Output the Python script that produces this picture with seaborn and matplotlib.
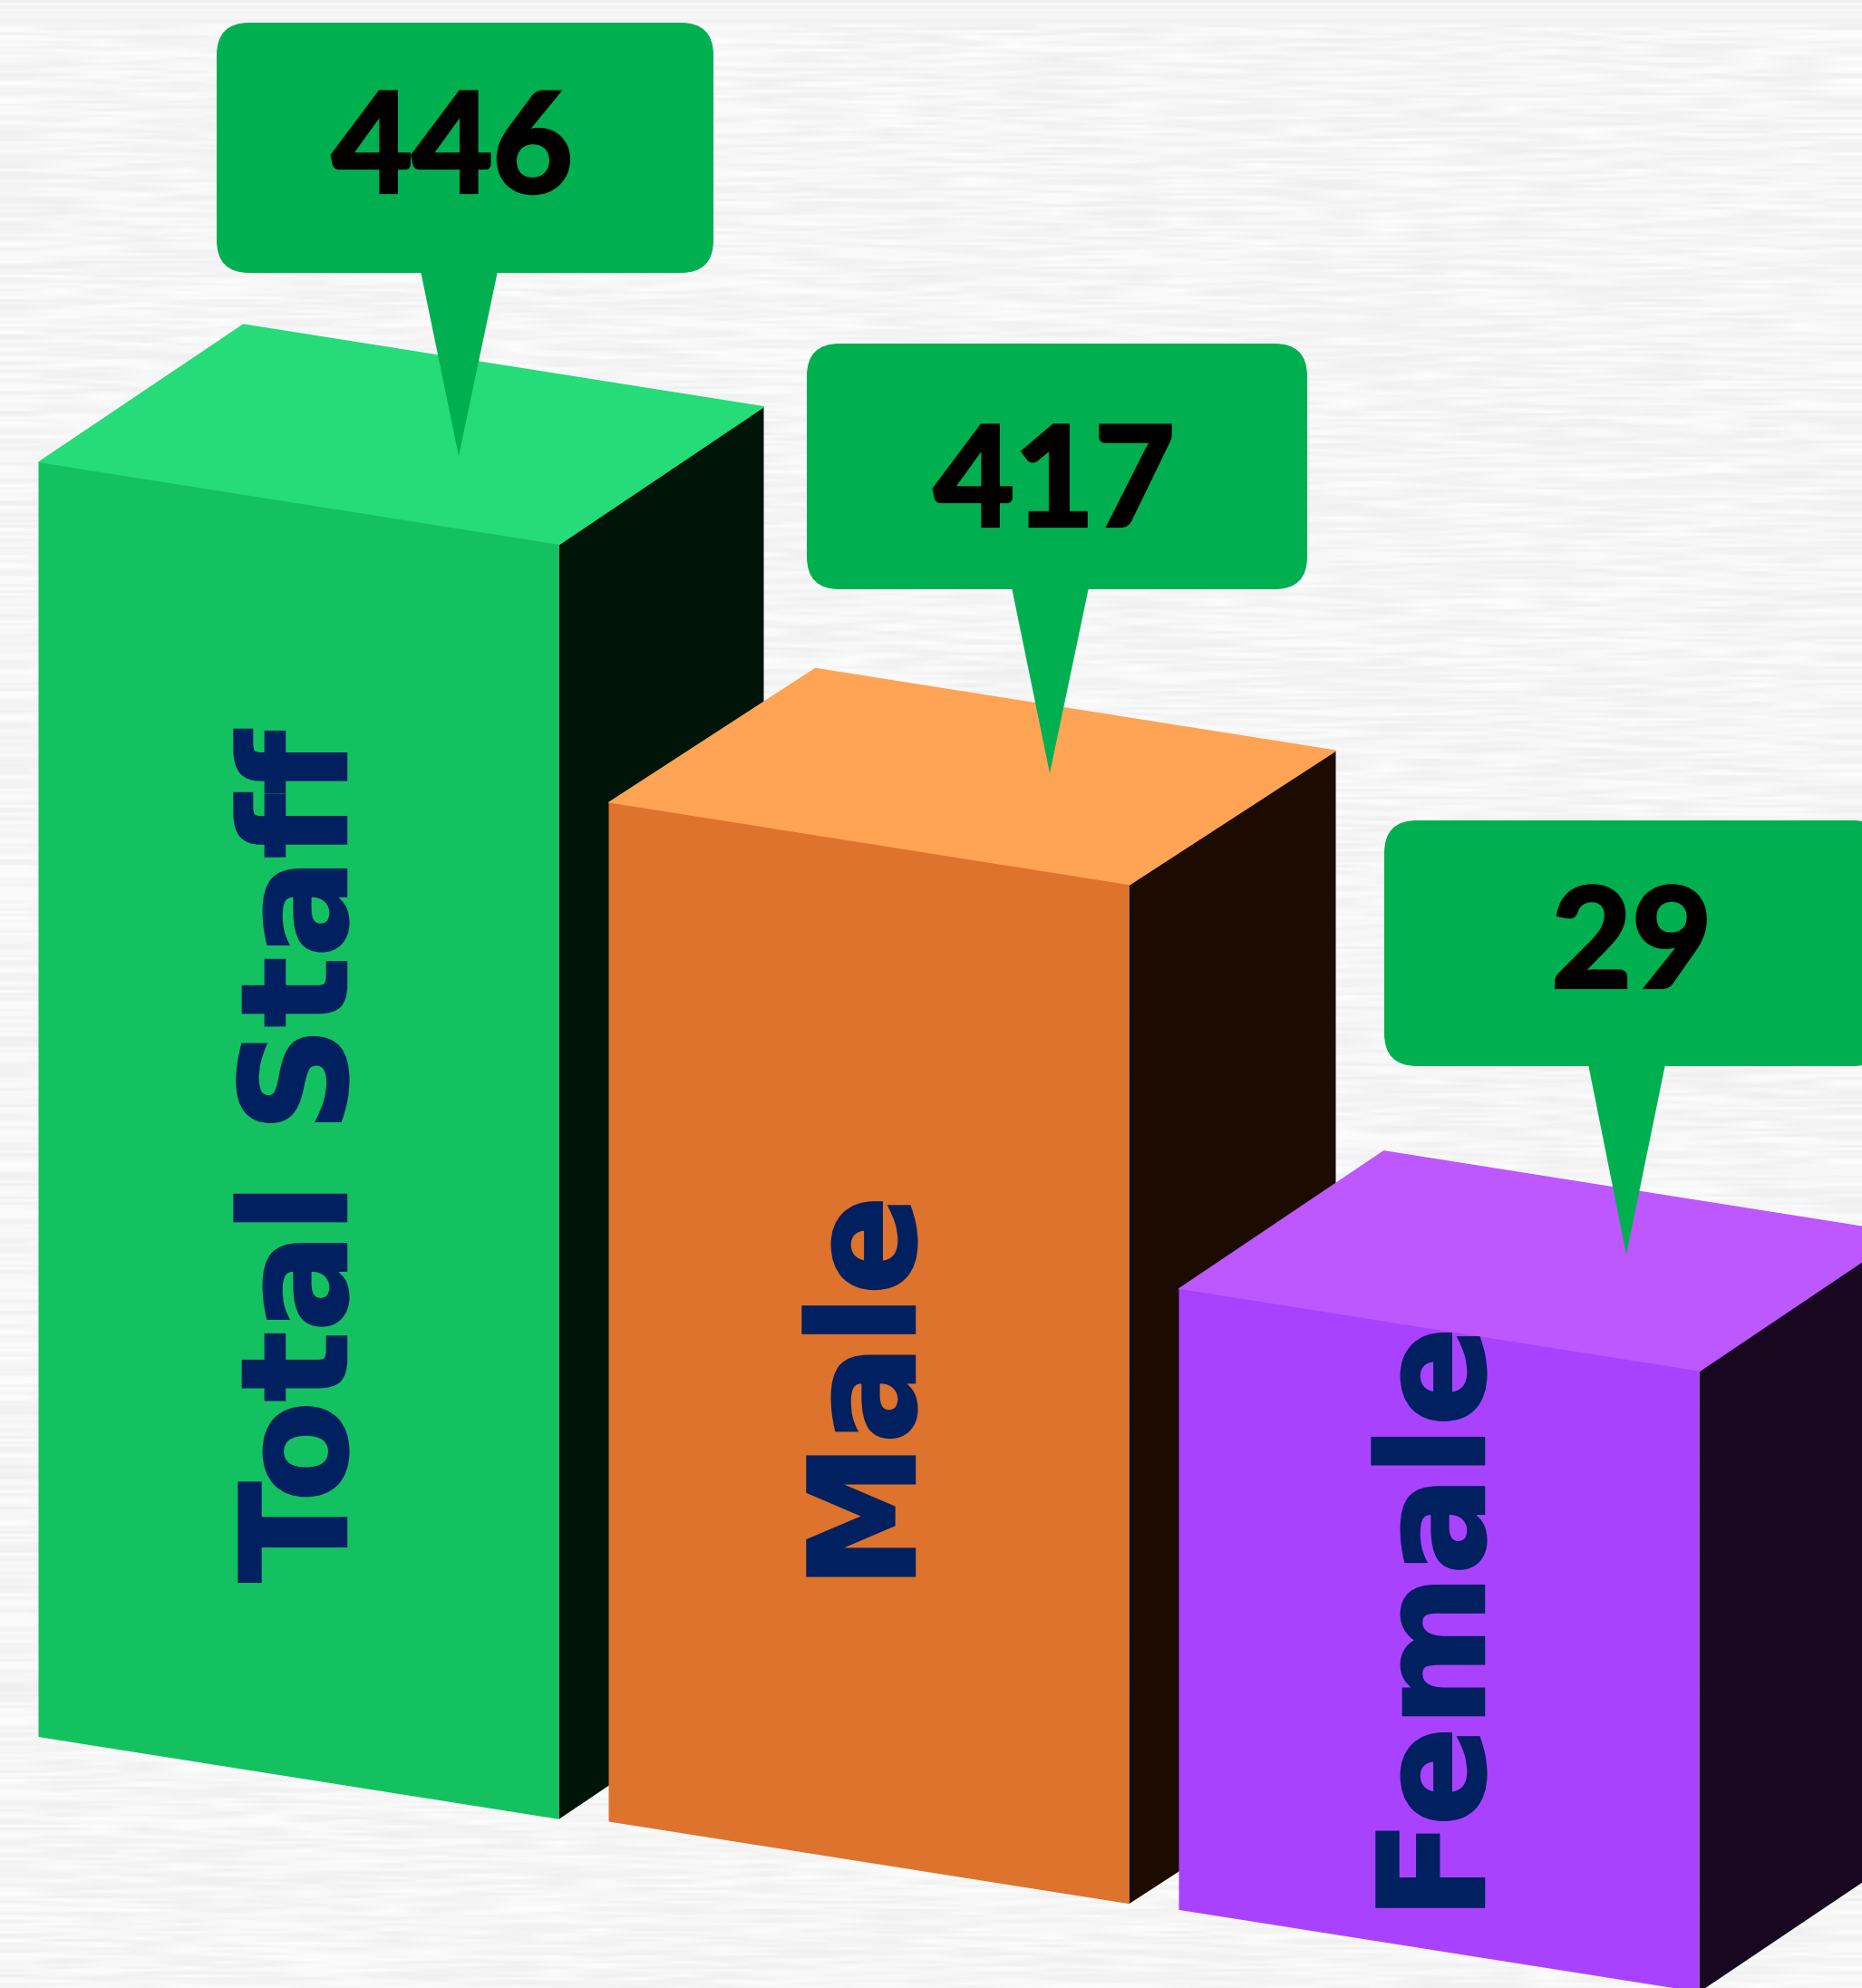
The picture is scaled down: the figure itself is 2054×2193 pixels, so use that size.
import numpy as np
import matplotlib
matplotlib.use("Agg")
import matplotlib.pyplot as plt
import matplotlib.patheffects as pe
import seaborn as sns
from matplotlib.patches import FancyBboxPatch, Polygon
from matplotlib.transforms import Affine2D

# what the chart says
categories = ["Total Staff", "Male", "Female"]
staff_counts = [446, 417, 29]

# the drawn bars are not to scale with the counts, so heights are read off the picture
face_heights = [1406, 1124, 685]
base_lift = [0, 6, 8]

front_colours = ["#14C161", "#DD732C", "#A942FF"]
top_colours = ["#25DC78", "#FFA354", "#BD57FF"]
side_colours = ["#001408", "#1C0B00", "#170820"]

WIDTH, HEIGHT = 2054, 2193
BAR_STEP = 629
BAR_WIDTH = 574
FIRST_CENTRE = 329.5
BASE_Y = 1916
SLOPE = 0.158
depth_x = [226, 228, 226]
depth_y = [152, 148, 152]


def data_x(px):
    return (px - FIRST_CENTRE) / BAR_STEP


def data_y(py):
    return BASE_Y - py


# all in reference pixels: box is left, right, top, bottom
callouts = [
    {"tip": (506, 503), "box": (239, 787, 25, 301), "text": (499, 168)},
    {"tip": (1158, 853), "box": (890, 1442, 379, 650), "text": (1163, 536)},
    {"tip": (1794, 1384), "box": (1527, 2080, 905, 1176), "text": (1800, 1045)},
]
label_pos = [(337, 1276), (964, 1536), (1592, 1791)]

sns.set_theme(style="white")

fig = plt.figure(figsize=(WIDTH / 100, HEIGHT / 100), dpi=100)
ax = fig.add_axes([0, 0, 1, 1])

sns.barplot(
    x=categories,
    y=face_heights,
    hue=categories,
    palette=front_colours,
    saturation=1,
    width=BAR_WIDTH / BAR_STEP,
    legend=False,
    linewidth=0,
    ax=ax,
)
bars = list(ax.patches)

ax.set_xlim(data_x(0), data_x(WIDTH))
ax.set_ylim(data_y(HEIGHT), data_y(0))
ax.axis("off")

# brushed paper background: short horizontal streaks from a sine hash
rows = np.arange(HEIGHT // 3)[:, None]
cols = np.arange(WIDTH // 46 + 1)[None, :]
grain = np.sin(rows * 12.9898 + (rows // 9) * cols * 78.233) * 43758.5453
grain = grain - np.floor(grain)
paper = 0.935 + 0.055 * grain
ax.imshow(
    paper,
    cmap="gray",
    vmin=0,
    vmax=1,
    aspect="auto",
    interpolation="bilinear",
    extent=(data_x(0), data_x(WIDTH), data_y(HEIGHT), data_y(0)),
    zorder=0,
)

x_start = data_x(42)
shear_k = SLOPE * BAR_STEP
shear = Affine2D.from_values(1, -shear_k, 0, 1, 0, shear_k * x_start)


def sheared(x, y):
    return x, y - shear_k * (x - x_start)


for i, bar in enumerate(bars):
    z = 2 + i
    bar.set_y(base_lift[i])
    bar.set_transform(shear + ax.transData)
    bar.set_zorder(z + 0.2)

    x0 = bar.get_x()
    x1 = x0 + bar.get_width()
    top = bar.get_y() + bar.get_height()
    low = bar.get_y()
    dx = depth_x[i] / BAR_STEP
    dy = depth_y[i]

    fl = sheared(x0, top)
    fr = sheared(x1, top)
    br = sheared(x1, low)
    ax.add_patch(Polygon(
        [fl, fr, (fr[0] + dx, fr[1] + dy), (fl[0] + dx, fl[1] + dy)],
        facecolor=top_colours[i], edgecolor=top_colours[i], linewidth=1, zorder=z + 0.1,
    ))
    ax.add_patch(Polygon(
        [fr, br, (br[0] + dx, br[1] + dy), (fr[0] + dx, fr[1] + dy)],
        facecolor=side_colours[i], edgecolor="none", zorder=z,
    ))

    ax.text(
        data_x(label_pos[i][0]), data_y(label_pos[i][1]), categories[i],
        rotation=90, ha="center", va="center", rotation_mode="anchor",
        family="DejaVu Sans", fontweight="bold", fontsize=116,
        color="#002060", zorder=8,
        path_effects=[pe.withStroke(linewidth=2.5, foreground="#002060", joinstyle="miter")],
    )

for i, spec in enumerate(callouts):
    left, right, upper, lower = spec["box"]
    tip_x, tip_y = spec["tip"]
    ax.add_patch(FancyBboxPatch(
        (data_x(left), data_y(lower)),
        (right - left) / BAR_STEP,
        lower - upper,
        boxstyle=f"round,pad=0,rounding_size={36 / BAR_STEP}",
        mutation_aspect=BAR_STEP,
        facecolor="#00B050", edgecolor="none", zorder=9,
    ))
    ax.add_patch(Polygon(
        [
            (data_x(tip_x - 42), data_y(lower - 2)),
            (data_x(tip_x + 43), data_y(lower - 2)),
            (data_x(tip_x), data_y(tip_y)),
        ],
        facecolor="#00B050", edgecolor="none", zorder=9,
    ))
    ax.text(
        data_x(spec["text"][0]), data_y(spec["text"][1]), str(staff_counts[i]),
        ha="center", va="center", family="Lato", fontweight="bold",
        fontsize=110, color="black", zorder=10,
        path_effects=[pe.withStroke(linewidth=3, foreground="black", joinstyle="miter")],
    )

fig.savefig("out.png", dpi=100)
